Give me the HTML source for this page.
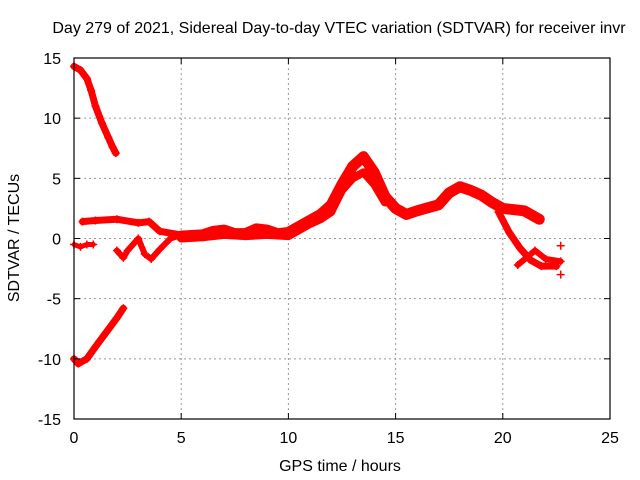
<!DOCTYPE html>
<html><head><meta charset="utf-8"><style>
body{margin:0;background:#fff}
svg{display:block;font-family:"Liberation Sans",sans-serif}
</style></head><body>
<svg id="chart" width="640" height="480">
<rect width="640" height="480" fill="#fff"/>
<text x="339" y="33" font-size="16" text-anchor="middle">Day 279 of 2021, Sidereal Day-to-day VTEC variation (SDTVAR) for receiver invr</text>
<text x="340" y="471" font-size="16" text-anchor="middle">GPS time / hours</text>
<text transform="translate(19,238) rotate(-90)" font-size="16" text-anchor="middle">SDTVAR / TECUs</text>
<g id="grid"></g>
<g id="series"></g>
<rect x="74" y="58" width="536" height="361" fill="none" stroke="#000" stroke-width="1.2"/>
<g id="ticks"></g>
</svg>
<script>
const xTicks=[0,5,10,15,20,25];
const yTicks=[-15,-10,-5,0,5,10,15];
const seriesTopLeft=[[0,14.3],[0.3,14],[0.6,13.3],[0.8,12.3],[1.0,11],[1.3,9.6],[1.6,8.4],[1.8,7.6],[1.95,7.1]];
const seriesBottomLeft=[[0,-10],[0.2,-10.4],[0.6,-10],[1.0,-9],[1.5,-7.8],[2.0,-6.6],[2.3,-5.8]];
const seriesShortLeft=[[0,-0.5],[0.3,-0.7],[0.6,-0.5],[0.9,-0.5]];
const seriesUpper=[[0.4,1.4],[1,1.5],[2,1.6],[3,1.3],[3.5,1.4],[4,0.6],[5,0.3],[6,0.2]];
const seriesWavy=[[2,-1],[2.3,-1.6],[2.5,-1],[3,0],[3.3,-1.3],[3.6,-1.7],[4,-0.9],[4.5,0],[5,0.3]];
const seriesMain=[[5,0.2],[6,0.3],[6.5,0.6],[7,0.7],[7.5,0.4],[8,0.4],[8.5,0.8],[9,0.7],[9.5,0.4],[10,0.5],[10.5,1],[11,1.5],[11.5,2],[12,2.8],[12.5,4.5],[13,6],[13.5,6.8],[14,5.5],[14.5,3.5],[15,2.5],[15.5,2],[16,2.3],[17,2.8],[17.5,3.8],[18,4.3],[18.5,4],[19,3.6],[19.5,3],[20,2.5],[21,2.3],[21.7,1.6]];
const seriesMainLow=[[5,0],[6,0.1],[7,0.3],[8,0.2],[9,0.3],[10,0.2],[10.5,0.7],[11,1.2],[11.5,1.6],[12,2.2]];
const seriesPeakLower=[[12,2.2],[12.5,4],[13,5],[13.5,5.5],[14,4.5],[14.5,3]];
const seriesDrop=[[19.8,2.2],[20.3,0.5],[20.8,-0.8],[21.3,-1.8],[21.8,-2.3],[22.5,-2.3]];
const seriesBranch=[[20.7,-2.2],[21.5,-1],[22,-1.7],[22.7,-1.9]];
const seriesLone=[[22.7,-0.6],[22.7,-3]];
const allSeries=[[seriesTopLeft,7],[seriesBottomLeft,7],[seriesShortLeft,5],[seriesUpper,7],[seriesWavy,6],[seriesMain,11],[seriesMainLow,8],[seriesPeakLower,8],[seriesDrop,7],[seriesBranch,6],[seriesLone,0]];
const X=h=>74+h*536/25, Y=v=>238.5-v*361/30;
const NS='http://www.w3.org/2000/svg';
function mk(t,a,p){const e=document.createElementNS(NS,t);for(const k in a)e.setAttribute(k,a[k]);p.appendChild(e);return e;}
const grid=document.getElementById('grid'),ticks=document.getElementById('ticks'),sg=document.getElementById('series');
xTicks.forEach(t=>{
 if(t>0&&t<25){const l=mk('line',{x1:X(t),x2:X(t),y1:58,y2:419,stroke:'#999','stroke-dasharray':'2,3'},grid);
 
 }
 mk('line',{x1:X(t),x2:X(t),y1:419,y2:413,stroke:'#000'},ticks);
 mk('line',{x1:X(t),x2:X(t),y1:58,y2:64,stroke:'#000'},ticks);
 const tx=mk('text',{x:X(t),y:443,'font-size':16,'text-anchor':'middle'},ticks);tx.textContent=t;
 
 
});
yTicks.forEach(t=>{
 if(t>-15&&t<15){const l=mk('line',{x1:74,x2:610,y1:Y(t),y2:Y(t),stroke:'#999','stroke-dasharray':'2,3'},grid);
 
 }
 mk('line',{x1:74,x2:80,y1:Y(t),y2:Y(t),stroke:'#000'},ticks);
 mk('line',{x1:604,x2:610,y1:Y(t),y2:Y(t),stroke:'#000'},ticks);
 const tx=mk('text',{x:61,y:Y(t)+6,'font-size':16,'text-anchor':'end'},ticks);tx.textContent=t;
 
 
});
allSeries.forEach(([pts,w],i)=>{
 if(w>0){const pl=mk('polyline',{points:pts.map(p=>X(p[0])+','+Y(p[1])).join(' '),fill:'none',stroke:'#f00','stroke-width':w,'stroke-linejoin':'round','stroke-linecap':'round'},sg);
 
 }
 pts.forEach(p=>{const m=mk('path',{d:`M${X(p[0])-4},${Y(p[1])}h8M${X(p[0])},${Y(p[1])-4}v8`,stroke:'#f00','stroke-width':1.5},sg);
 
 });
});
</script>
</body></html>
